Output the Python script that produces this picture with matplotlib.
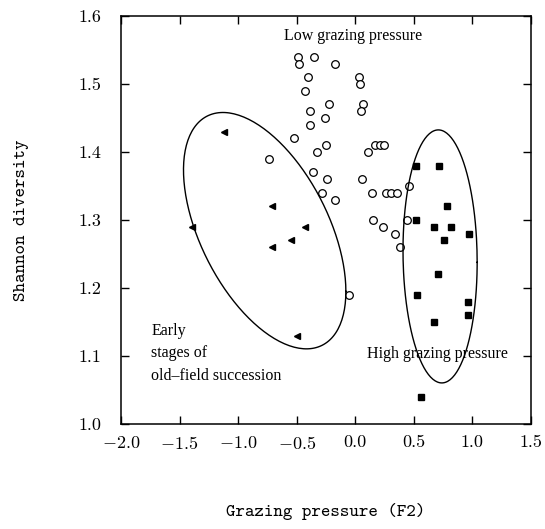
"""
Shannon diversity against grazing pressure (F2), three site groups
"""
import numpy as np
from matplotlib import pyplot as plt

# low grazing pressure sites (open circles)
low_x = [-0.49, -0.48, -0.35, -0.17, -0.40, 0.03, 0.04, -0.43, -0.22, 0.07,
         0.05, -0.39, -0.26, -0.39, -0.52, -0.25, -0.33, 0.11, 0.17, 0.21,
         0.25, -0.74, -0.36, -0.24, 0.06, -0.28, -0.17, 0.14, 0.26, 0.31,
         0.36, 0.46, 0.15, 0.44, 0.24, 0.34, 0.38, -0.05]
low_y = [1.54, 1.53, 1.54, 1.53, 1.51, 1.51, 1.50, 1.49, 1.47, 1.47,
         1.46, 1.46, 1.45, 1.44, 1.42, 1.41, 1.40, 1.40, 1.41, 1.41,
         1.41, 1.39, 1.37, 1.36, 1.36, 1.34, 1.33, 1.34, 1.34, 1.34,
         1.34, 1.35, 1.30, 1.30, 1.29, 1.28, 1.26, 1.19]

# early stages of old-field succession (filled triangles)
early_x = [-1.12, -0.71, -1.39, -0.43, -0.55, -0.71, -0.50]
early_y = [1.43, 1.32, 1.29, 1.29, 1.27, 1.26, 1.13]

# high grazing pressure sites (filled squares)
high_x = [0.52, 0.72, 0.78, 0.52, 0.67, 0.82, 0.97, 0.76, 0.71, 0.53,
          0.96, 0.96, 0.67, 0.56]
high_y = [1.38, 1.38, 1.32, 1.30, 1.29, 1.29, 1.28, 1.27, 1.22, 1.19,
          1.18, 1.16, 1.15, 1.04]

x_ticks = [-2.0, -1.5, -1.0, -0.5, 0.0, 0.5, 1.0, 1.5]
y_ticks = [1.0, 1.1, 1.2, 1.3, 1.4, 1.5, 1.6]


def cov_ellipse(xs, ys, n_std=1.96, num=200):
    """
    Outline of the covariance ellipse of a group of points
    """
    pts = np.vstack([xs, ys])
    centre = pts.mean(axis=1)
    chol = np.linalg.cholesky(np.cov(pts))
    t = np.linspace(0, 2 * np.pi, num)
    circle = np.vstack([np.cos(t), np.sin(t)])
    outline = centre[:, None] + n_std * chol @ circle
    return outline[0], outline[1]


plt.rcParams['font.family'] = ['cmr10', 'DejaVu Serif']
plt.rcParams['mathtext.fontset'] = 'cm'
plt.rcParams['axes.formatter.use_mathtext'] = True

fig = plt.figure(figsize=(5.45, 5.29), dpi=100)
ax = fig.add_axes([0.222, 0.1985, 0.752, 0.7713])

ax.plot(low_x, low_y, 'o', mfc='white', mec='black', ms=5.5, mew=0.9)
ax.plot(early_x, early_y, '<', color='black', ms=5)
ax.plot(high_x, high_y, 's', color='black', ms=4.2)

for gx, gy in [(early_x, early_y), (high_x, high_y)]:
    ex, ey = cov_ellipse(gx, gy)
    ax.plot(ex, ey, color='black', lw=1.0)

note_font = dict(family='Liberation Serif', fontsize=11.5)
ax.text(-0.02, 1.571, 'Low grazing pressure', ha='center', va='center',
        **note_font)
ax.text(0.70, 1.103, 'High grazing pressure', ha='center', va='center',
        **note_font)
ax.text(-1.74, 1.104, 'Early\nstages of\nold\u2013field succession',
        ha='left', va='center', linespacing=1.55, **note_font)

ax.set_xlim(-2.0, 1.5)
ax.set_ylim(1.0, 1.6)
ax.set_xticks(x_ticks)
ax.set_yticks(y_ticks)
ax.set_xticklabels(['$%.1f$' % v if v < 0 else '%.1f' % v for v in x_ticks])
ax.set_yticklabels(['%.1f' % v for v in y_ticks])
ax.tick_params(direction='in', length=6, width=1, top=True, right=True,
               labelsize=13)
ax.tick_params(axis='y', pad=14)
ax.tick_params(axis='x', pad=8)
for spine in ax.spines.values():
    spine.set_linewidth(1.1)

ax.set_xlabel('Grazing pressure (F2)', family='cmtt10', fontsize=13,
              labelpad=37)
ax.set_ylabel('Shannon diversity', family='cmtt10', fontsize=13,
              labelpad=36)

fig.savefig('out.png', dpi=100)
